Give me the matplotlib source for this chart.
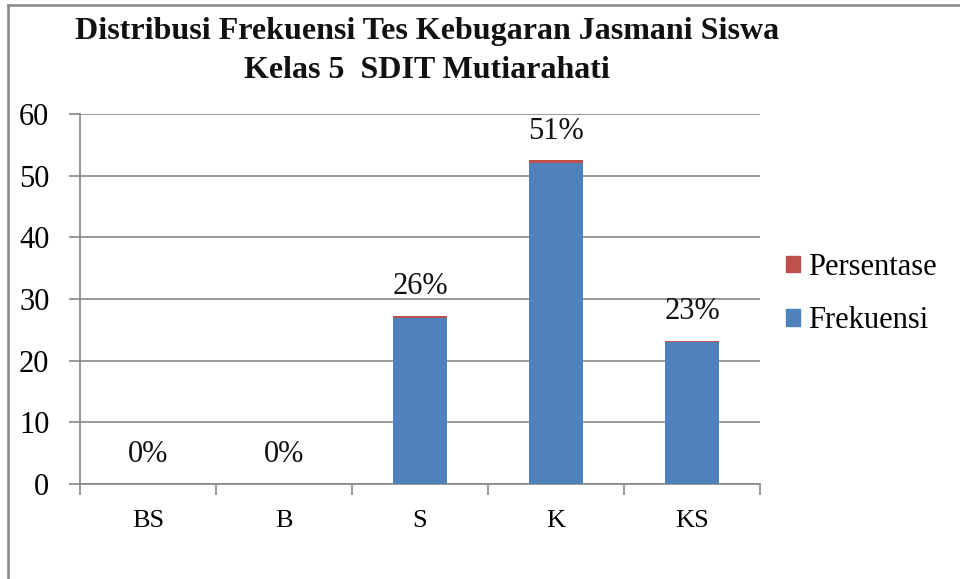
import matplotlib
matplotlib.use("Agg")
import matplotlib.pyplot as plt
from matplotlib.lines import Line2D
from matplotlib.patches import Patch

# data
kategori = ["BS", "B", "S", "K", "KS"]
frekuensi = [0, 0, 27, 52, 23]
persentase = [0.00, 0.00, 0.26, 0.51, 0.23]
label_persen = ["0%", "0%", "26%", "51%", "23%"]

plt.rcParams['font.family'] = ['Liberation Serif', 'DejaVu Serif']

biru = '#4F81BD'
merah = '#C0504D'
abu = '#868686'

fig = plt.figure(figsize=(9.6, 5.79), dpi=100)
ax = fig.add_axes([80 / 960, 1 - 484 / 579, 680 / 960, 370 / 579])

x = list(range(len(kategori)))
ax.bar(x, frekuensi, width=0.4, color=biru, zorder=3)
ax.bar(x, persentase, width=0.4, bottom=frekuensi, color=merah, zorder=3)

for i in x:
    top = frekuensi[i] + persentase[i]
    ax.annotate(label_persen[i], (i, top), xytext=(0, 21), textcoords='offset points',
                ha='center', va='center', fontsize=22, color='#111111')

ax.set_xlim(-0.5, 4.5)
ax.set_ylim(0, 60)
ax.set_yticks(range(0, 61, 10))
ax.yaxis.grid(True, color=abu, linewidth=1.2, zorder=0)
ax.set_axisbelow(True)

ax.set_xticks(x)
ax.set_xticklabels(kategori, fontsize=19)
ax.set_xticks([i - 0.5 for i in range(len(kategori) + 1)], minor=True)
ax.tick_params(axis='x', which='major', length=0, pad=19)
ax.tick_params(axis='x', which='minor', length=8, color=abu, width=1.2)
ax.tick_params(axis='y', labelsize=22, length=8, color=abu, width=1.2, pad=14)

for s in ['top', 'right']:
    ax.spines[s].set_visible(False)
for s in ['left', 'bottom']:
    ax.spines[s].set_color(abu)
    ax.spines[s].set_linewidth(1.2)

fig.text(427 / 960, 1 - 32 / 579, "Distribusi Frekuensi Tes Kebugaran Jasmani Siswa",
         ha='center', va='center', fontsize=23, fontweight='bold', color='#111111')
fig.text(427 / 960, 1 - 70 / 579, "Kelas 5  SDIT Mutiarahati",
         ha='center', va='center', fontsize=23, fontweight='bold', color='#111111')

handles = [Patch(color=merah), Patch(color=biru)]
fig.legend(handles, ["Persentase", "Frekuensi"], loc='center left',
           bbox_to_anchor=(786 / 960, 1 - 294 / 579), frameon=False, fontsize=22,
           borderpad=0, borderaxespad=0,
           handlelength=0.46, handleheight=0.46, handletextpad=0.26, labelspacing=0.8)

# bingkai grafik (kiri dan atas)
fig.add_artist(Line2D([8 / 960, 8 / 960], [0, 1 - 5 / 579], transform=fig.transFigure,
                      color=abu, linewidth=1.8))
fig.add_artist(Line2D([8 / 960, 1], [1 - 5 / 579, 1 - 5 / 579], transform=fig.transFigure,
                      color=abu, linewidth=1.8))

fig.savefig("out.png", dpi=100)
